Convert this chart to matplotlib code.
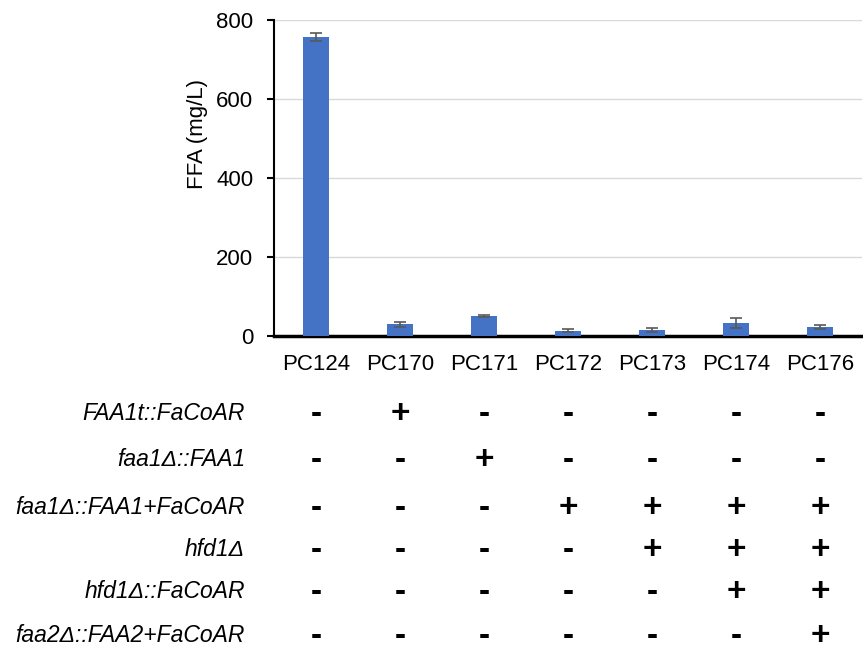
import matplotlib.pyplot as plt
import matplotlib.transforms as mtransforms
import numpy as np

plt.rcParams['font.family'] = ['Liberation Sans', 'DejaVu Sans']

strains = ['PC124', 'PC170', 'PC171', 'PC172', 'PC173', 'PC174', 'PC176']
ffa = [757, 30, 51, 13, 15, 32, 23]
ffa_err = [11, 6, 3, 4, 4, 13, 5]

row_labels = ['FAA1t::FaCoAR',
              'faa1\u0394::FAA1',
              'faa1\u0394::FAA1+FaCoAR',
              'hfd1\u0394',
              'hfd1\u0394::FaCoAR',
              'faa2\u0394::FAA2+FaCoAR']
genotype = [
    ['-', '+', '-', '-', '-', '-', '-'],
    ['-', '-', '+', '-', '-', '-', '-'],
    ['-', '-', '-', '+', '+', '+', '+'],
    ['-', '-', '-', '-', '+', '+', '+'],
    ['-', '-', '-', '-', '-', '+', '+'],
    ['-', '-', '-', '-', '-', '-', '+'],
]
# vertical position of each table row (figure fraction)
row_y = [1 - 414 / 652, 1 - 460 / 652, 1 - 508 / 652,
         1 - 550 / 652, 1 - 592 / 652, 1 - 636 / 652]

fig = plt.figure(figsize=(8.63, 6.52), dpi=100)
ax = fig.add_axes([274 / 863, 1 - 336 / 652, 588 / 863, 316 / 652])

x = np.arange(len(strains))
ax.bar(x, ffa, width=0.31, color='#4472C4', zorder=3)
ax.errorbar(x, ffa, yerr=ffa_err, fmt='none', ecolor='#595959',
            elinewidth=1.2, capsize=4, capthick=1.2, zorder=4)

ax.set_xlim(-0.5, len(strains) - 0.5)
ax.set_ylim(0, 800)
ax.set_yticks([0, 200, 400, 600, 800])
ax.yaxis.grid(True, color='#d9d9d9', linewidth=1, zorder=0)
ax.set_xticks(x)
ax.set_xticklabels(strains, fontsize=16)
ax.tick_params(axis='x', length=0, pad=13)
ax.tick_params(axis='y', labelsize=16, length=5, width=1.5, direction='out',
               pad=10)
ax.set_ylabel('FFA (mg/L)', fontsize=16)
ax.yaxis.set_label_coords(-0.113, 0.64)

for side in ('top', 'right'):
    ax.spines[side].set_visible(False)
ax.spines['left'].set_linewidth(1.5)
ax.spines['bottom'].set_linewidth(2.5)

trans = mtransforms.blended_transform_factory(ax.transData, fig.transFigure)
for label, signs, y in zip(row_labels, genotype, row_y):
    fig.text(245 / 863, y, label, ha='right', va='center',
             fontsize=16.5, style='italic')
    for xi, s in zip(x, signs):
        fig.text(xi, y, s, transform=trans, ha='center', va='center',
                 fontsize=24, fontweight='bold')

fig.savefig('out.png', dpi=100)
